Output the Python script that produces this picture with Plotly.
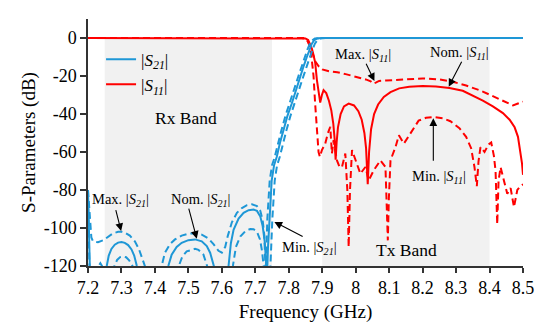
import plotly.graph_objects as go

# ---------------- data ----------------
# |S21| nominal (solid)
f_s21_nom = [7.2, 7.203, 7.206, 7.23, 7.256, 7.262, 7.27, 7.28, 7.29, 7.3, 7.31, 7.32, 7.33, 7.338, 7.346,
             7.38, 7.41, 7.44, 7.45, 7.465, 7.48, 7.5, 7.52, 7.54, 7.555, 7.565, 7.575,
             7.6, 7.62, 7.627, 7.635, 7.65, 7.665, 7.68, 7.695, 7.705, 7.715, 7.722, 7.728, 7.733,
             7.735, 7.738, 7.742, 7.749, 7.756, 7.764, 7.774, 7.784, 7.796, 7.809, 7.822, 7.834,
             7.845, 7.854, 7.862, 7.869, 7.876, 7.884, 7.9, 8.5]
s21_nom = [-80, -100, -125, -135, -120, -114.5, -111, -108.8, -107.7, -107.4, -107.8, -109, -111.3, -114.5, -120,
           -135, -135, -120, -114, -110, -107.8, -106.4, -106, -107, -109.5, -113, -120,
           -135, -120, -108, -101, -95, -92, -90.6, -90.3, -91, -94, -99, -107, -120,
           -125, -110, -95, -75, -67, -62.6, -55, -48.6, -41, -34.5, -27, -20.5,
           -14.5, -10, -6, -3, -1.2, -0.3, 0, 0]

# |S21| upper bound (dashed)
f_s21_max = [7.2, 7.205, 7.21, 7.215, 7.23, 7.245, 7.26, 7.275, 7.29, 7.3, 7.31, 7.325, 7.34, 7.352, 7.362, 7.37,
             7.39, 7.41, 7.42, 7.43, 7.445, 7.46, 7.48, 7.5, 7.52, 7.54, 7.56, 7.575, 7.59, 7.6,
             7.61, 7.618, 7.63, 7.645, 7.66, 7.675, 7.69, 7.705, 7.715, 7.722, 7.727, 7.731,
             7.733, 7.736, 7.743, 7.75, 7.758, 7.768, 7.778, 7.79, 7.803, 7.816, 7.828, 7.839,
             7.848, 7.856, 7.863, 7.87, 7.878, 7.894, 8.5]
s21_max = [-80, -95, -105, -107, -107.5, -106.5, -104.5, -102.8, -102, -102, -102.5, -104, -107, -111, -116, -120,
           -130, -130, -120, -113, -108.5, -106, -104, -103, -102.8, -103.5, -105.5, -108.5, -112, -113,
           -110, -104, -97, -92, -89.5, -88, -87.5, -88.5, -91, -96, -104, -125,
           -110, -95, -75, -67, -62.6, -55, -48.6, -41, -34.5, -27, -20.5, -14.5,
           -10, -6, -3, -1.2, -0.3, 0, 0]

# |S21| lower bound (dashed)
f_s21_min = [7.2, 7.203, 7.205, 7.225, 7.232, 7.237, 7.242, 7.25, 7.27, 7.279, 7.287, 7.296, 7.305, 7.314, 7.323, 7.333,
             7.35, 7.45, 7.472, 7.482, 7.495, 7.51, 7.52, 7.53, 7.545, 7.556, 7.57,
             7.62, 7.633, 7.642, 7.655, 7.67, 7.685, 7.695, 7.705, 7.714, 7.72, 7.725, 7.735,
             7.744, 7.747, 7.751, 7.758, 7.765, 7.773, 7.783, 7.793, 7.805, 7.818, 7.831, 7.843,
             7.854, 7.863, 7.871, 7.878, 7.885, 7.893, 7.909, 8.5]
s21_min = [-84, -105, -125, -130, -120, -118.5, -120, -130, -130, -120, -116.8, -115.3, -115, -115.4, -117, -120,
           -130, -130, -120, -115, -112.3, -111.3, -111, -111.5, -114, -120, -130,
           -130, -120, -110, -104.5, -101.7, -100.5, -100.6, -102, -106, -112, -120, -130,
           -125, -110, -95, -75, -67, -62.6, -55, -48.6, -41, -34.5, -27, -20.5,
           -14.5, -10, -6, -3, -1.2, -0.3, 0, 0]

# |S11| nominal (solid)
f_s11_nom = [7.2, 7.84, 7.85, 7.858, 7.864, 7.869, 7.874, 7.879, 7.884, 7.889, 7.894, 7.899, 7.904, 7.912,
             7.92, 7.927, 7.933, 7.937, 7.94, 7.943, 7.947, 7.955, 7.965, 7.979, 7.995, 8.008, 8.018, 8.026,
             8.031, 8.036, 8.04, 8.046, 8.055, 8.067, 8.084, 8.104, 8.13, 8.16, 8.2, 8.24, 8.28, 8.32,
             8.36, 8.38, 8.41, 8.44, 8.46, 8.475, 8.485, 8.492, 8.497, 8.5]
s11_nom = [0, 0, -0.3, -1, -3, -5.5, -9, -13, -22, -29, -34, -30, -27.5, -29,
           -33, -38, -45, -53, -64, -55, -47, -40, -36, -34.5, -35.5, -38.5, -43, -50,
           -58, -77, -60, -48, -40, -35, -31, -28.5, -26.5, -25.6, -25.3, -25.5, -26.3, -27.8,
           -31, -33, -36, -39.5, -43, -47, -52, -59, -66, -72]

# |S11| upper bound (dashed)
f_s11_max = [7.2, 7.84, 7.85, 7.858, 7.865, 7.872, 7.88, 7.89, 7.9, 7.92, 7.945, 7.97, 7.995, 8.015, 8.03,
             8.045, 8.052, 8.06, 8.07, 8.09, 8.12, 8.15, 8.2, 8.25, 8.29, 8.33, 8.37, 8.4, 8.43, 8.455,
             8.47, 8.485, 8.5]
s11_max = [0, 0, -0.5, -2, -5, -9, -12.5, -15, -16.5, -17.5, -18, -19, -20, -20.8, -21.8,
           -22.8, -24, -23.5, -22.6, -22.4, -22.1, -21.6, -21.3, -21.8, -23, -25, -27.5, -29.8, -32.3, -34.5,
           -35.5, -34.5, -33.5]

# |S11| lower bound (dashed)
f_s11_min = [7.2, 7.845, 7.855, 7.862, 7.868, 7.874, 7.879, 7.884, 7.889, 7.893, 7.899, 7.909, 7.917, 7.924,
             7.929, 7.934, 7.944, 7.952, 7.959, 7.969, 7.975, 7.979, 7.983, 7.989, 7.999, 8.014, 8.029,
             8.039, 8.054, 8.074, 8.089, 8.093, 8.096, 8.099, 8.104, 8.119, 8.129, 8.144, 8.164, 8.188,
             8.21, 8.233, 8.26, 8.283, 8.31, 8.33, 8.345, 8.355, 8.362, 8.367, 8.373, 8.385, 8.397, 8.405,
             8.413, 8.418, 8.423, 8.427, 8.433, 8.443, 8.453, 8.463, 8.473, 8.483, 8.492, 8.5]
s11_min = [0, 0, -1, -4, -10, -20, -35, -50, -60, -62.5, -59, -55.6, -50, -46.8,
           -60.8, -53.8, -64.4, -68, -67.9, -60.8, -80, -110, -80, -59, -64.4, -71.4, -67.9,
           -74.9, -69.6, -64.4, -67.9, -85, -106.5, -85, -64.4, -57.4, -51.2, -55.6, -50.3, -43.5,
           -42, -41.6, -42.2, -43.8, -47.5, -52, -58, -68, -78, -65, -57.4, -60, -56, -55,
           -62, -70, -98, -75, -68, -75, -82, -79, -89, -80, -78, -77]

rx_band = [7.25, 7.75]
tx_band = [7.9, 8.4]
x_ticks = [7.2, 7.3, 7.4, 7.5, 7.6, 7.7, 7.8, 7.9, 8.0, 8.1, 8.2, 8.3, 8.4, 8.5]
x_tick_text = ["7.2", "7.3", "7.4", "7.5", "7.6", "7.7", "7.8", "7.9", "8", "8.1", "8.2", "8.3", "8.4", "8.5"]
y_ticks = [0, -20, -40, -60, -80, -100, -120]
y_tick_text = ["0", "-20", "-40", "-60", "-80", "-100", "-120"]

# ---------------- styling ----------------
BLUE = "#1e97d6"
RED = "#ff0000"
FONT = "Liberation Serif, Times New Roman, DejaVu Serif, serif"
DASH = "7px,4px"
LW = 2

S21 = "|<i>S</i><sub><i>21</i></sub>|"
S11 = "|<i>S</i><sub><i>11</i></sub>|"

fig = go.Figure()

fig.add_trace(go.Scatter(x=f_s11_max, y=s11_max, mode="lines", line=dict(color=RED, width=LW, dash=DASH),
                         showlegend=False, hoverinfo="skip"))
fig.add_trace(go.Scatter(x=f_s11_min, y=s11_min, mode="lines", line=dict(color=RED, width=LW, dash=DASH),
                         showlegend=False, hoverinfo="skip"))
fig.add_trace(go.Scatter(x=f_s11_nom, y=s11_nom, mode="lines", line=dict(color=RED, width=LW),
                         name=S11, legendrank=2))
fig.add_trace(go.Scatter(x=f_s21_max, y=s21_max, mode="lines", line=dict(color=BLUE, width=LW, dash=DASH),
                         showlegend=False, hoverinfo="skip"))
fig.add_trace(go.Scatter(x=f_s21_min, y=s21_min, mode="lines", line=dict(color=BLUE, width=LW, dash=DASH),
                         showlegend=False, hoverinfo="skip"))
fig.add_trace(go.Scatter(x=f_s21_nom, y=s21_nom, mode="lines", line=dict(color=BLUE, width=LW),
                         name=S21, legendrank=1))

for band in (rx_band, tx_band):
    fig.add_shape(type="rect", xref="x", yref="y", x0=band[0], x1=band[1], y0=-120, y1=0,
                  fillcolor="#f1f1f1", line_width=0, layer="below")

def label(x, y, text, size=14.5):
    fig.add_annotation(x=x, y=y, xref="x", yref="y", text=text, showarrow=False,
                       font=dict(family=FONT, size=size, color="black"))

def arrow(x_tail, y_tail, x_head, y_head):
    fig.add_annotation(x=x_head, y=y_head, ax=x_tail, ay=y_tail, xref="x", yref="y",
                       axref="x", ayref="y", text="", showarrow=True, arrowhead=2,
                       arrowsize=1.4, arrowwidth=1.1, arrowcolor="black")

label(7.493, -42.3, "Rx Band", 17.5)
label(8.151, -111.7, "Tx Band", 17.5)
label(8.023, -9.1, "Max. " + S11)
arrow(8.029, -12.8, 8.056, -22.6)
label(8.31, -8.0, "Nom. " + S11)
arrow(8.319, -11.7, 8.278, -25.6)
label(8.249, -73.3, "Min. " + S11)
arrow(8.232, -65.4, 8.232, -42.2)
label(7.298, -85.4, "Max. " + S21)
arrow(7.282, -89.8, 7.299, -101.6)
label(7.535, -85.4, "Nom. " + S21)
arrow(7.5, -89.0, 7.525, -105.6)
label(7.861, -110.7, "Min. " + S21)
arrow(7.846, -104.9, 7.757, -96.8)

# the page body adds an 8px offset, so the figure is 8px smaller and margins shifted
fig.update_layout(
    width=542, height=325,
    margin=dict(l=80, r=27, t=11, b=67, autoexpand=False),
    paper_bgcolor="white", plot_bgcolor="white",
    font=dict(family=FONT, size=18, color="black"),
    legend=dict(x=0.03, y=0.908, xanchor="left", yanchor="top", bgcolor="rgba(0,0,0,0)",
                font=dict(family=FONT, size=17), tracegroupgap=0),
    showlegend=True,
)
fig.update_xaxes(range=[7.2, 8.5], tickvals=x_ticks, ticktext=x_tick_text, showline=True,
                 linecolor="#333333", linewidth=1.5, ticks="outside", ticklen=5, tickwidth=1.5,
                 tickcolor="#333333", showgrid=False, zeroline=False, automargin=False,
                 title=dict(text="Frequency (GHz)", font=dict(family=FONT, size=19), standoff=7),
                 tickfont=dict(family=FONT, size=18))
fig.update_yaxes(range=[-120, 10], tickvals=y_ticks, ticktext=y_tick_text, showline=True,
                 linecolor="#333333", linewidth=1.5, ticks="outside", ticklen=6, tickwidth=1.5,
                 tickcolor="#333333", showgrid=False, zeroline=False, automargin=False,
                 title=dict(text="S-Parameters (dB)", font=dict(family=FONT, size=19), standoff=3),
                 tickfont=dict(family=FONT, size=18))

fig.write_html("out.html")
